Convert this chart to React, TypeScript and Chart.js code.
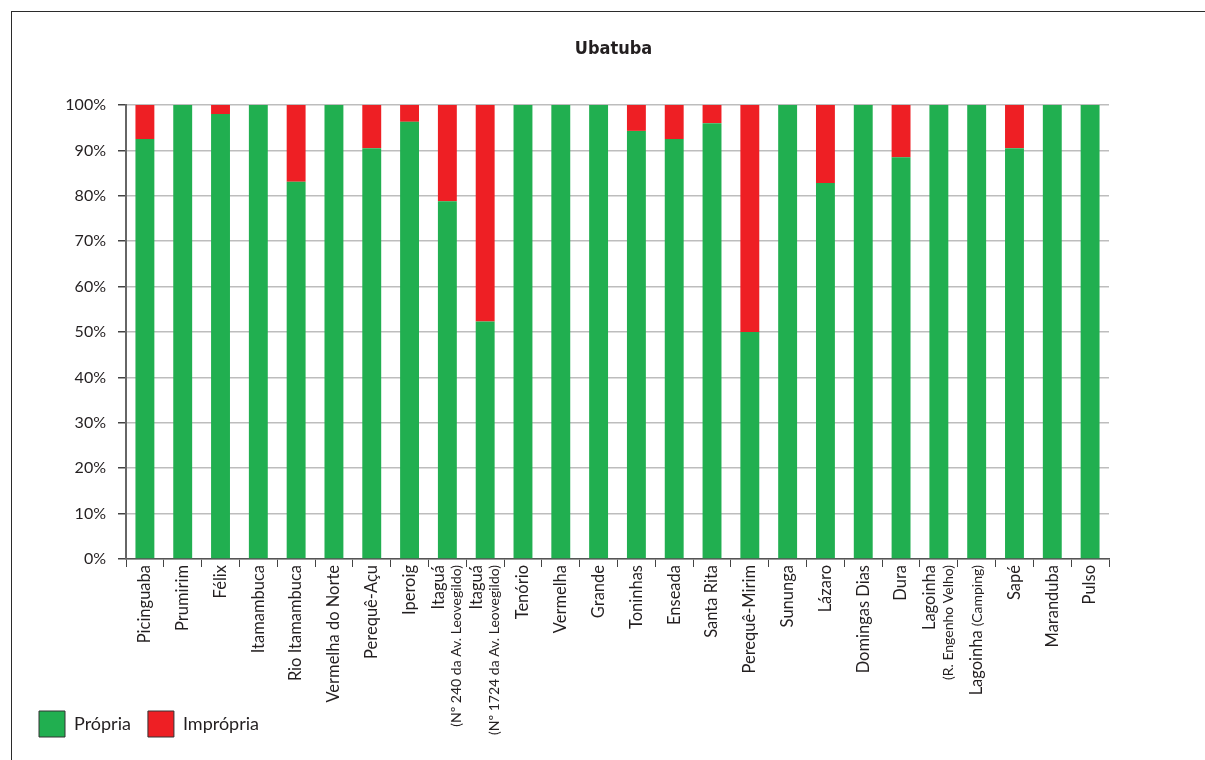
import React, { useEffect, useRef } from 'react';
import { Chart, registerables } from 'chart.js';

Chart.register(...registerables);

const chartTitle = 'Ubatuba';

const categories = [
  'Picinguaba', 'Prumirim', 'Félix', 'Itamambuca', 'Rio Itamambuca', 'Vermelha do Norte',
  'Perequê-Açu', 'Iperoig', 'Itaguá', 'Itaguá', 'Tenório', 'Vermelha', 'Grande', 'Toninhas',
  'Enseada', 'Santa Rita', 'Perequê-Mirim', 'Sununga', 'Lázaro', 'Domingas Dias', 'Dura',
  'Lagoinha', 'Lagoinha', 'Sapé', 'Maranduba', 'Pulso',
];

const categoryNotes = [
  '', '', '', '', '', '', '', '', '(Nº 240 da Av. Leovegildo)', '(Nº 1724 da Av. Leovegildo)',
  '', '', '', '', '', '', '', '', '', '', '', '(R. Engenho Velho)', '(Camping)', '', '', '',
];

// notes written on the same line as the name
const inlineNotes = [
  false, false, false, false, false, false, false, false, false, false, false, false, false,
  false, false, false, false, false, false, false, false, false, true, false, false, false,
];

const propria = [
  92.5, 100, 98, 100, 83.1, 100, 90.5, 96.3, 78.8, 52.3, 100, 100, 100, 94.3, 92.5, 96, 50,
  100, 82.8, 100, 88.5, 100, 100, 90.5, 100, 100,
];

const impropria = [
  7.5, 0, 2, 0, 16.9, 0, 9.5, 3.7, 21.2, 47.7, 0, 0, 0, 5.7, 7.5, 4, 50, 0, 17.2, 0, 11.5,
  0, 0, 9.5, 0, 0,
];

const yTicks = [0, 10, 20, 30, 40, 50, 60, 70, 80, 90, 100];

const seriesNames = ['Própria', 'Imprópria'];

const GREEN = '#21AF50';
const RED = '#EE1F24';
const FONT = 'Lato, "Open Sans", sans-serif';

const xLabelPlugin = {
  id: 'xLabelPlugin',
  afterDraw(chart: any) {
    const xs = chart.scales.x;
    const ctx = chart.ctx as CanvasRenderingContext2D;
    const top = xs.top + 6;
    const mainFont = `16.5px ${FONT}`;
    const noteFont = `14px ${FONT}`;
    categories.forEach((name, i) => {
      const x = xs.getPixelForValue(i);
      const note = categoryNotes[i];
      ctx.save();
      ctx.translate(x, top);
      ctx.rotate(-Math.PI / 2);
      ctx.textAlign = 'right';
      ctx.textBaseline = 'middle';
      ctx.fillStyle = '#231F20';
      if (!note) {
        ctx.font = mainFont;
        ctx.fillText(name, 0, 0);
      } else if (inlineNotes[i]) {
        ctx.font = noteFont;
        const w = ctx.measureText(note).width;
        ctx.fillText(note, 0, 1);
        ctx.font = mainFont;
        ctx.fillText(name, -w - 4, 0);
      } else {
        ctx.font = mainFont;
        ctx.fillText(name, 0, -9);
        ctx.font = noteFont;
        ctx.fillText(note, 0, 9.5);
      }
      ctx.restore();
    });
  },
};

export default function App() {
  const canvasRef = useRef<HTMLCanvasElement | null>(null);

  useEffect(() => {
    if (!canvasRef.current) return;
    const labels = categories.map((c, i) => (categoryNotes[i] ? `${c} ${categoryNotes[i]}` : c));
    const chart = new Chart(canvasRef.current, {
      type: 'bar',
      data: {
        labels,
        datasets: [
          {
            label: seriesNames[0],
            data: propria,
            backgroundColor: GREEN,
            borderWidth: 0,
            barPercentage: 0.5,
            categoryPercentage: 1,
          },
          {
            label: seriesNames[1],
            data: impropria,
            backgroundColor: RED,
            borderWidth: 0,
            barPercentage: 0.5,
            categoryPercentage: 1,
          },
        ],
      },
      plugins: [xLabelPlugin],
      options: {
        animation: false,
        responsive: false,
        maintainAspectRatio: false,
        layout: { padding: { left: 22, right: 0, top: 0, bottom: 13 } },
        plugins: {
          tooltip: { enabled: false },
          title: {
            display: true,
            text: chartTitle,
            color: '#231F20',
            font: { family: '"Liberation Sans Narrow", "DejaVu Sans Condensed", sans-serif', size: 18, weight: 'bold' },
            padding: { top: 39, bottom: 44.4 },
          },
          legend: {
            display: true,
            position: 'bottom',
            align: 'start',
            labels: {
              boxWidth: 26,
              boxHeight: 26,
              padding: 17,
              color: '#231F20',
              font: { family: FONT, size: 18 },
              generateLabels: (ch: any) =>
                Chart.defaults.plugins.legend.labels.generateLabels(ch).map((it: any) => ({
                  ...it,
                  strokeStyle: '#333333',
                  lineWidth: 1,
                })),
            },
          },
        },
        scales: {
          x: {
            stacked: true,
            grid: {
              display: true,
              drawOnChartArea: false,
              drawTicks: true,
              tickLength: 8,
              offset: true,
              color: '#444444',
              lineWidth: 1,
            },
            border: { display: true, color: '#555555', width: 1.5 },
            ticks: { display: false },
            afterFit: (s: any) => {
              s.height = 135;
            },
          },
          y: {
            stacked: true,
            min: 0,
            max: 100,
            afterBuildTicks: (s: any) => {
              s.ticks = yTicks.map((v) => ({ value: v }));
            },
            grid: {
              color: '#BDBDBD',
              lineWidth: 1.5,
              tickColor: '#444444',
              tickLength: 8,
            },
            border: { display: true, color: '#666666', width: 2 },
            ticks: {
              padding: 12,
              color: '#231F20',
              font: { family: FONT, size: 16 },
              callback: (v: any) => `${v}%`,
            },
            afterFit: (s: any) => {
              s.width = 104;
            },
          },
          yR: {
            type: 'linear',
            position: 'right',
            display: true,
            grid: { display: false },
            border: { display: false },
            ticks: { display: false },
            afterFit: (s: any) => {
              s.width = 96;
            },
          },
        },
      },
    } as any);
    return () => chart.destroy();
  }, []);

  return (
    <div style={{ position: 'fixed', left: 0, top: 0, width: 1205, height: 760, background: '#fff' }}>
      <canvas ref={canvasRef} width={1205} height={760} style={{ position: 'absolute', left: 0, top: 0 }} />
      <div
        style={{
          position: 'absolute',
          left: 11,
          top: 11,
          right: 0,
          bottom: 0,
          borderTop: '1.5px solid #2b2b2b',
          borderLeft: '1.5px solid #2b2b2b',
          pointerEvents: 'none',
        }}
      />
    </div>
  );
}
